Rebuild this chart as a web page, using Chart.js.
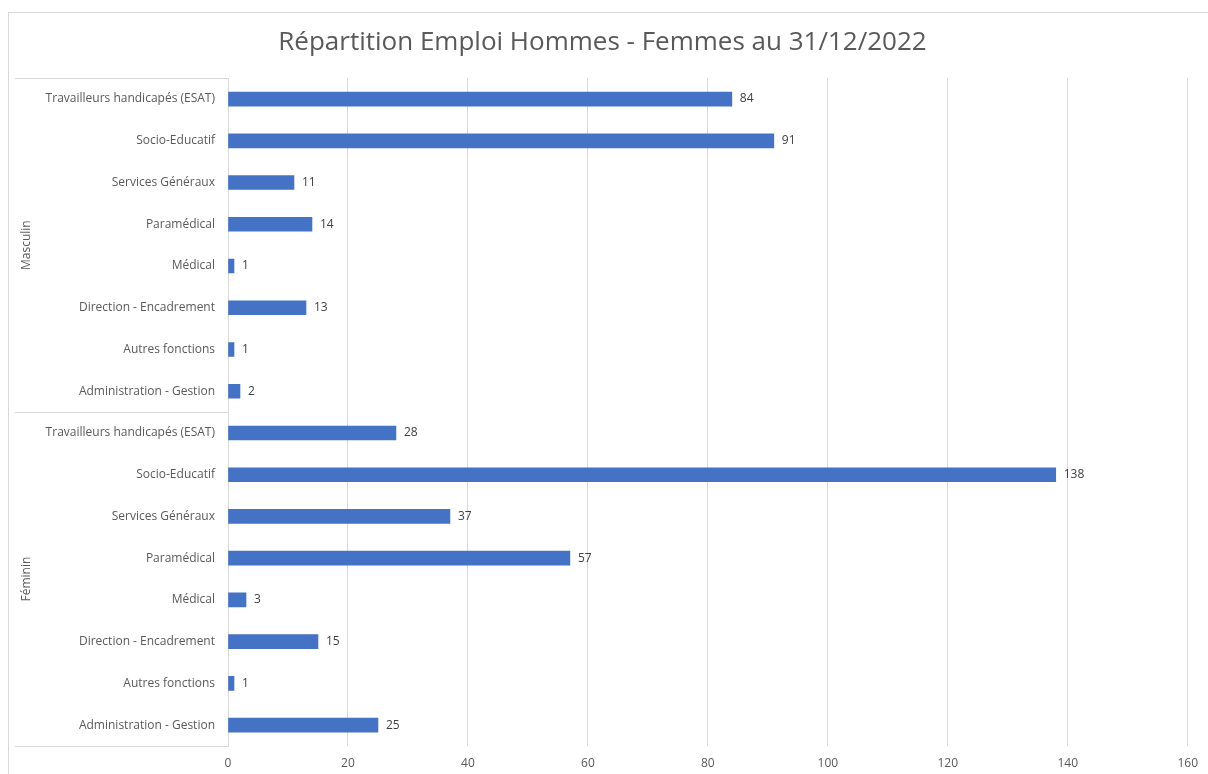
<!DOCTYPE html>
<html>
<head>
<meta charset="utf-8">
<script src="https://cdn.jsdelivr.net/npm/chart.js@4"></script>
<style>
  html, body { margin: 0; padding: 0; background: #fff; }
  #wrap { width: 1208px; height: 774px; }
</style>
</head>
<body>
<div id="wrap"><canvas id="chart"></canvas></div>
<script>
const jobs = [
  "Travailleurs handicapés (ESAT)",
  "Socio-Educatif",
  "Services Généraux",
  "Paramédical",
  "Médical",
  "Direction - Encadrement",
  "Autres fonctions",
  "Administration - Gestion",
];
const groups = ["Masculin", "Féminin"];
const masculin = [84, 91, 11, 14, 1, 13, 1, 2];
const feminin = [28, 138, 37, 57, 3, 15, 1, 25];
const xTicks = [0, 20, 40, 60, 80, 100, 120, 140, 160];

const labels = jobs.concat(jobs);
const values = masculin.concat(feminin);
const textColor = "#595959";
const lineColor = "#d9d9d9";
const font = "'Open Sans', 'Liberation Sans', sans-serif";

// border, group labels and separator lines
const groupPlugin = {
  id: "groups",
  beforeDraw(chart) {
    const ctx = chart.ctx;
    ctx.save();
    ctx.strokeStyle = lineColor;
    ctx.lineWidth = 1;
    ctx.strokeRect(8.5, 12.5, 1210, 800);
    ctx.restore();
  },
  afterDraw(chart) {
    const ctx = chart.ctx;
    const area = chart.chartArea;
    const y = chart.scales.y;
    const per = jobs.length;
    ctx.save();
    ctx.strokeStyle = lineColor;
    ctx.lineWidth = 1;
    const left = 15;
    for (let g = 0; g <= groups.length; g++) {
      let yy;
      if (g === 0) yy = area.top;
      else if (g === groups.length) yy = area.bottom;
      else yy = (y.getPixelForValue(g * per - 1) + y.getPixelForValue(g * per)) / 2;
      yy = Math.round(yy) + 0.5;
      ctx.beginPath();
      ctx.moveTo(left, yy);
      ctx.lineTo(area.left, yy);
      ctx.stroke();
    }
    ctx.fillStyle = textColor;
    ctx.font = "12px " + font;
    ctx.textAlign = "center";
    ctx.textBaseline = "middle";
    groups.forEach((g, i) => {
      const y0 = y.getPixelForValue(i * per);
      const y1 = y.getPixelForValue(i * per + per - 1);
      ctx.save();
      ctx.translate(27, (y0 + y1) / 2);
      ctx.rotate(-Math.PI / 2);
      ctx.fillText(g, 0, 0);
      ctx.restore();
    });
    // value labels
    const meta = chart.getDatasetMeta(0);
    ctx.fillStyle = "#404040";
    ctx.textAlign = "left";
    meta.data.forEach((bar, i) => {
      ctx.fillText(values[i], bar.x + 8, bar.y);
    });
    ctx.restore();
  },
};

new Chart(document.getElementById("chart"), {
  type: "bar",
  data: {
    labels: labels,
    datasets: [
      {
        data: values,
        backgroundColor: "#4472c4",
        barThickness: 14,
      },
    ],
  },
  options: {
    indexAxis: "y",
    responsive: true,
    maintainAspectRatio: false,
    animation: false,
    layout: { padding: { top: 12, left: 15, right: 18, bottom: 0 } },
    plugins: {
      legend: { display: false },
      tooltip: { enabled: false },
      title: {
        display: true,
        text: "Répartition Emploi Hommes - Femmes au 31/12/2022",
        color: textColor,
        font: { family: font, size: 26, weight: "normal" },
        padding: { top: 15, bottom: 20 },
      },
    },
    scales: {
      x: {
        min: 0,
        max: 160,
        afterBuildTicks: (scale) => {
          scale.ticks = xTicks.map((v) => ({ value: v }));
        },
        afterFit: (scale) => {
          scale.height = 28;
        },
        grid: { color: lineColor, drawTicks: false },
        border: { display: false },
        ticks: {
          color: textColor,
          font: { family: font, size: 12 },
          padding: 10,
        },
      },
      y: {
        afterFit: (scale) => {
          scale.width = 213;
        },
        grid: { display: false, drawTicks: false },
        border: { display: true, color: lineColor },
        ticks: {
          color: textColor,
          font: { family: font, size: 12 },
          padding: 13,
          autoSkip: false,
        },
      },
    },
  },
  plugins: [groupPlugin],
});
</script>
</body>
</html>
